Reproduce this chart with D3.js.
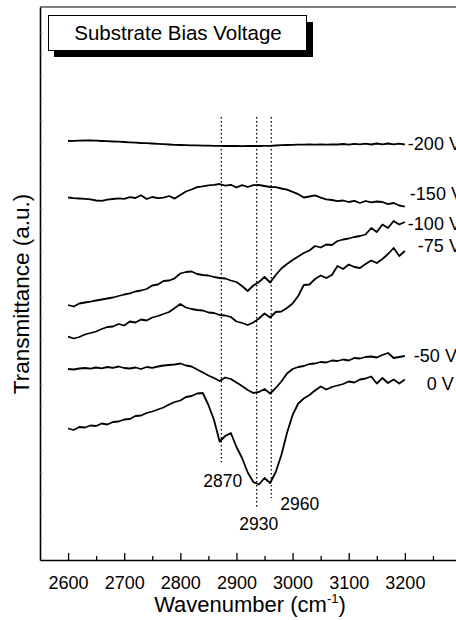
<!DOCTYPE html>
<html>
<head>
<meta charset="utf-8">
<script src="https://cdn.jsdelivr.net/npm/d3@7"></script>
<style>
  body { margin: 0; background: #fff; }
  svg { display: block; font-family: Arial, "Liberation Sans", sans-serif; }
  .curve { fill: none; stroke: #000; stroke-width: 1.8; stroke-linejoin: round; }
  .peak-line { stroke: #000; stroke-width: 1.3; stroke-dasharray: 1.4 2.6; }
</style>
</head>
<body>
<div id="chart"></div>
<script>
const svgWidth = 456;
const svgHeight = 620;

// Sampling grid (cm^-1)
const wavenumbers = [2600, 2610, 2620, 2630, 2640, 2650, 2660, 2670, 2680, 2690,
  2700, 2710, 2720, 2730, 2740, 2750, 2760, 2770, 2780, 2790,
  2800, 2810, 2820, 2830, 2840, 2850, 2860, 2870, 2880, 2890,
  2900, 2910, 2920, 2930, 2940, 2950, 2960, 2970, 2980, 2990,
  3000, 3010, 3020, 3030, 3040, 3050, 3060, 3070, 3080, 3090,
  3100, 3110, 3120, 3130, 3140, 3150, 3160, 3170, 3180, 3190, 3200];

// Transmittance (a.u., offset spectra)
const t200 = [41.90, 41.92, 41.94, 41.95, 41.95, 41.93, 41.90, 41.88, 41.85, 41.83,
  41.80, 41.77, 41.74, 41.70, 41.68, 41.65, 41.62, 41.58, 41.55, 41.52,
  41.50, 41.48, 41.47, 41.46, 41.44, 41.43, 41.42, 41.42, 41.40, 41.40,
  41.40, 41.39, 41.40, 41.40, 41.40, 41.41, 41.42, 41.45, 41.48, 41.50,
  41.52, 41.54, 41.54, 41.55, 41.53, 41.56, 41.54, 41.57, 41.55, 41.60,
  41.54, 41.62, 41.56, 41.64, 41.55, 41.65, 41.57, 41.65, 41.56, 41.64, 41.55];

const t150 = [36.25, 36.18, 36.15, 36.12, 36.07, 35.95, 35.92, 36.04, 36.10, 36.16,
  36.12, 36.28, 36.20, 36.48, 36.10, 36.30, 36.18, 36.24, 36.40, 36.14,
  36.50, 36.85, 37.05, 37.28, 37.36, 37.46, 37.52, 37.60, 37.44, 37.52,
  37.25, 37.48, 37.30, 37.48, 37.50, 37.40, 37.30, 37.28, 37.15, 37.04,
  36.82, 36.58, 36.25, 36.35, 36.47, 36.24, 36.06, 36.00, 35.88, 35.95,
  35.80, 35.92, 35.70, 35.90, 35.76, 35.85, 35.80, 35.58, 35.70, 35.45, 35.33];

const t100 = [25.50, 25.35, 25.65, 25.75, 25.83, 25.95, 26.05, 26.15, 26.25, 26.40,
  26.55, 26.67, 26.85, 26.95, 27.10, 27.45, 27.55, 27.90, 27.95, 28.17,
  28.65, 28.80, 28.85, 28.60, 28.50, 28.45, 28.30, 28.20, 28.15, 27.95,
  27.80, 27.40, 26.90, 27.45, 27.80, 28.30, 27.75, 28.50, 29.15, 29.60,
  30.00, 30.35, 30.70, 30.95, 31.40, 31.25, 31.55, 31.50, 31.90, 32.05,
  32.15, 32.30, 32.40, 32.55, 33.20, 32.80, 33.55, 33.20, 33.90, 33.55, 33.80];

const t75 = [22.33, 22.15, 22.30, 22.55, 22.70, 22.85, 23.10, 23.30, 23.35, 23.60,
  23.45, 23.85, 23.75, 24.05, 23.95, 24.25, 24.40, 24.60, 24.80, 25.20,
  25.60, 25.25, 25.10, 25.00, 24.95, 24.75, 24.70, 24.50, 24.45, 24.30,
  23.85, 23.70, 23.50, 23.75, 24.15, 24.65, 24.25, 24.80, 24.85, 25.20,
  25.65, 26.40, 27.50, 27.55, 28.10, 28.45, 28.20, 28.50, 29.40, 29.10,
  29.55, 29.30, 29.20, 29.60, 29.95, 29.70, 30.10, 30.60, 31.20, 30.40, 30.90];

const t50 = [19.10, 19.05, 19.15, 19.20, 19.14, 19.25, 19.17, 19.30, 19.22, 19.35,
  19.20, 19.15, 19.25, 19.10, 19.30, 19.22, 19.35, 19.45, 19.50, 19.55,
  19.65, 19.45, 19.35, 19.05, 18.75, 18.45, 18.20, 17.90, 18.25, 18.10,
  17.75, 17.40, 17.00, 16.70, 16.80, 17.10, 16.65, 17.20, 17.85, 18.65,
  19.10, 19.30, 19.40, 19.60, 19.65, 19.80, 19.75, 19.95, 19.90, 20.05,
  19.95, 20.20, 20.15, 20.30, 20.35, 20.25, 20.50, 20.70, 20.20, 20.30, 20.40];

const t0 = [13.15, 13.00, 13.30, 13.25, 13.45, 13.40, 13.65, 13.55, 13.80, 13.85,
  14.05, 14.10, 14.40, 14.45, 14.70, 14.85, 15.05, 15.25, 15.55, 15.80,
  15.95, 16.30, 16.40, 16.65, 16.70, 15.50, 14.00, 11.85, 12.40, 12.70,
  11.30, 10.20, 8.75, 7.80, 7.55, 8.20, 7.70, 8.80, 10.50, 12.70,
  14.50, 15.65, 16.15, 16.50, 16.95, 17.35, 17.05, 17.30, 17.45, 17.60,
  17.85, 17.75, 18.05, 18.15, 18.35, 17.65, 18.20, 17.70, 18.05, 17.65, 18.05];

const seriesLabels = ['-200 V', '-150 V', '-100 V', '-75 V', '-50 V', '0 V'];
const seriesValues = [t200, t150, t100, t75, t50, t0];

// Marked C-H stretching bands
const peakLabels = ['2870', '2930', '2960'];
const peakPositions = [2873, 2936, 2962];
const peakLineTop = 44.3;
const peakLineBottoms = [9.8, 5.3, 6.2];

const majorTicks = [2600, 2700, 2800, 2900, 3000, 3100, 3200];
const minorTicks = [2650, 2750, 2850, 2950, 3050, 3150, 3250];

const legendTitle = 'Substrate Bias Voltage';

// Scales
const x = d3.scaleLinear().domain([2550, 3300]).range([40, 461]);
const y = d3.scaleLinear().domain([0, 55.3]).range([560, 7]);

const svg = d3.select('#chart').append('svg')
    .attr('width', svgWidth)
    .attr('height', svgHeight);

// Frame (runs past the right edge of the picture)
svg.append('line')
    .attr('x1', x(2550)).attr('x2', svgWidth)
    .attr('y1', y(55.3)).attr('y2', y(55.3))
    .attr('stroke', '#000').attr('stroke-width', 1.2);

// X axis, ticks pointing inward
const xAxisG = svg.append('g')
    .attr('transform', 'translate(0,' + y(0) + ')')
    .call(d3.axisBottom(x).tickValues(majorTicks).tickSize(-7).tickSizeOuter(0)
        .tickPadding(16).tickFormat(d3.format('d')));
xAxisG.select('.domain').attr('stroke-width', 1.6);
xAxisG.selectAll('.tick line').attr('stroke-width', 1.3);
xAxisG.selectAll('.tick text')
    .attr('font-size', 18)
    .attr('fill', '#000');

svg.append('g')
    .attr('transform', 'translate(0,' + y(0) + ')')
    .call(d3.axisBottom(x).tickValues(minorTicks).tickSize(-4).tickFormat(''))
    .call(g => g.select('.domain').remove())
    .selectAll('.tick line').attr('stroke-width', 1.3);

// Y axis, no labels
const yAxisG = svg.append('g')
    .attr('transform', 'translate(' + x(2550) + ',0)')
    .call(d3.axisLeft(y).tickValues(d3.range(2.2, 55, 2.2)).tickSize(-2).tickSizeOuter(0).tickFormat(''));
yAxisG.select('.domain').attr('stroke-width', 1.6);
yAxisG.selectAll('.tick line').attr('stroke-width', 0.8).attr('stroke', '#666');

// Axis titles
const xTitle = svg.append('text')
    .attr('x', 250)
    .attr('y', 612)
    .attr('text-anchor', 'middle')
    .attr('font-size', 22)
    .text('Wavenumber (cm');
xTitle.append('tspan').attr('dy', -9).attr('font-size', 13).text('-1');
xTitle.append('tspan').attr('dy', 9).text(')');

svg.append('text')
    .attr('transform', 'translate(29,' + 294 + ') rotate(-90)')
    .attr('text-anchor', 'middle')
    .attr('font-size', 22.5)
    .text('Transmittance (a.u.)');

// Peak marker lines
svg.append('g').selectAll('line.peak-line')
    .data(peakPositions)
    .enter()
    .append('line')
        .attr('class', 'peak-line')
        .attr('x1', d => x(d)).attr('x2', d => x(d))
        .attr('y1', y(peakLineTop))
        .attr('y2', (d, i) => y(peakLineBottoms[i]));

// Spectra
const line = d3.line()
    .x((d, i) => x(wavenumbers[i]))
    .y(d => y(d));

svg.append('g').selectAll('path.curve')
    .data(seriesValues)
    .enter()
    .append('path')
        .attr('class', 'curve')
        .attr('d', line);

// Curve labels, next to the end of each spectrum (cut by the right edge as in the original)
const labelOffsets = [[3, 5.5], [5, -6.7], [3, 8], [13, 1], [9, 6], [22, 10.5]];
svg.append('g').selectAll('text')
    .data(seriesLabels)
    .enter()
    .append('text')
        .attr('x', (d, i) => x(3200) + labelOffsets[i][0])
        .attr('y', (d, i) => y(seriesValues[i][seriesValues[i].length - 1]) + labelOffsets[i][1])
        .attr('font-size', 18)
        .text(d => d);

// Peak labels
const peakLabelPlacement = [
  {dx: 21, dy: 25, anchor: 'end'},
  {dx: 2, dy: 23, anchor: 'middle'},
  {dx: 9, dy: 12, anchor: 'start'}
];
svg.append('g').selectAll('text')
    .data(peakLabels)
    .enter()
    .append('text')
        .attr('x', (d, i) => x(peakPositions[i]) + peakLabelPlacement[i].dx)
        .attr('y', (d, i) => y(peakLineBottoms[i]) + peakLabelPlacement[i].dy)
        .attr('text-anchor', (d, i) => peakLabelPlacement[i].anchor)
        .attr('font-size', 17.5)
        .text(d => d);

// Legend box with drop shadow
const legend = svg.append('g');
legend.append('rect')
    .attr('x', 54).attr('y', 22)
    .attr('width', 259).attr('height', 35)
    .attr('fill', '#000');
legend.append('rect')
    .attr('x', 48.5).attr('y', 15.5)
    .attr('width', 258).attr('height', 35)
    .attr('fill', '#fff')
    .attr('stroke', '#000')
    .attr('stroke-width', 1);
legend.append('text')
    .attr('x', 178)
    .attr('y', 40)
    .attr('text-anchor', 'middle')
    .attr('font-size', 20.5)
    .text(legendTitle);
</script>
</body>
</html>
